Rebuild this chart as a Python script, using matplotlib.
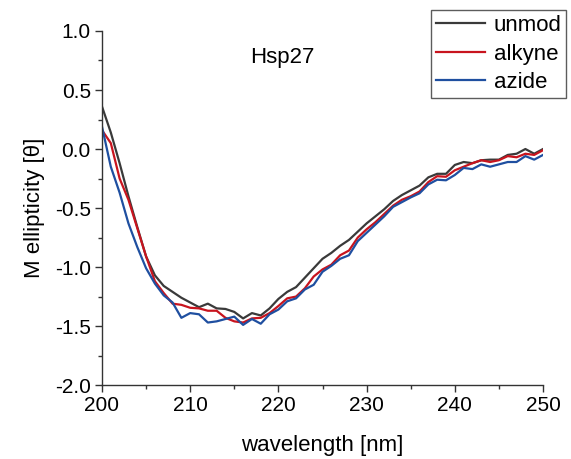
import numpy as np
import matplotlib
matplotlib.use("Agg")
import matplotlib.pyplot as plt
from matplotlib.ticker import MultipleLocator, FuncFormatter

plt.rcParams["font.family"] = ["Liberation Sans", "DejaVu Sans"]

# CD spectra of Hsp27, 200-250 nm in 1 nm steps
wavelength = list(range(200, 251))
unmod = [0.36, 0.14, -0.12, -0.40, -0.66, -0.91, -1.07, -1.16, -1.21, -1.26,
         -1.30, -1.34, -1.31, -1.35, -1.355, -1.38, -1.435, -1.39, -1.41, -1.35,
         -1.27, -1.21, -1.17, -1.09, -1.01, -0.93, -0.88, -0.82, -0.77, -0.70,
         -0.63, -0.57, -0.51, -0.44, -0.39, -0.35, -0.31, -0.24, -0.21, -0.21,
         -0.135, -0.11, -0.12, -0.095, -0.09, -0.09, -0.05, -0.04, 0.0, -0.04,
         0.0]
alkyne = [0.16, 0.05, -0.25, -0.43, -0.67, -0.91, -1.12, -1.22, -1.31, -1.32,
          -1.345, -1.35, -1.37, -1.37, -1.43, -1.46, -1.47, -1.435, -1.43, -1.39,
          -1.33, -1.265, -1.25, -1.18, -1.08, -1.02, -0.98, -0.90, -0.86, -0.75,
          -0.68, -0.62, -0.55, -0.48, -0.43, -0.40, -0.36, -0.28, -0.23, -0.235,
          -0.18, -0.15, -0.12, -0.095, -0.11, -0.095, -0.06, -0.07, -0.04, -0.05,
          -0.01]
azide = [0.19, -0.15, -0.37, -0.63, -0.83, -1.01, -1.14, -1.24, -1.30, -1.43,
         -1.39, -1.40, -1.47, -1.46, -1.44, -1.42, -1.49, -1.44, -1.48, -1.40,
         -1.36, -1.29, -1.265, -1.19, -1.15, -1.04, -0.99, -0.93, -0.90, -0.78,
         -0.71, -0.64, -0.57, -0.49, -0.45, -0.41, -0.375, -0.30, -0.26, -0.265,
         -0.22, -0.16, -0.17, -0.13, -0.15, -0.13, -0.11, -0.11, -0.06, -0.09,
         -0.05]

SERIES = [("unmod", unmod, "#3a3a3a"),
          ("alkyne", alkyne, "#c8141e"),
          ("azide", azide, "#1f4fa0")]

fig = plt.figure(figsize=(5.71, 4.59), dpi=100)
ax = fig.add_axes([0.1786, 0.161, 0.7724, 0.7715])

for label, values, color in SERIES:
    ax.plot(wavelength, values, color=color, lw=1.6, label=label)

ax.set_xlim(200, 250)
ax.set_ylim(-2.0, 1.0)
ax.xaxis.set_major_locator(MultipleLocator(10))
ax.xaxis.set_minor_locator(MultipleLocator(5))
ax.yaxis.set_major_locator(MultipleLocator(0.5))
ax.yaxis.set_minor_locator(MultipleLocator(0.25))
ax.yaxis.set_major_formatter(FuncFormatter(lambda v, _: f"{v:.1f}"))
ax.tick_params(which="major", direction="out", length=5, width=1, labelsize=15,
               color="#333333", pad=3)
ax.tick_params(which="minor", direction="out", length=3, width=1, color="#333333")
for side in ("top", "right"):
    ax.spines[side].set_visible(False)
for side in ("left", "bottom"):
    ax.spines[side].set_color("#333333")
    ax.spines[side].set_linewidth(1.0)

ax.set_xlabel("wavelength [nm]", fontsize=16, labelpad=14)
ax.set_ylabel("M ellipticity [θ]", fontsize=16, labelpad=7)
ax.text(220.4, 0.775, "Hsp27", fontsize=16, ha="center", va="center")

leg = fig.legend(loc="upper right", bbox_to_anchor=(0.992, 0.978), fontsize=16,
                 frameon=True, fancybox=False, handlelength=2.2, labelspacing=0.34,
                 borderpad=0.22, handletextpad=0.4, borderaxespad=0)
leg.get_frame().set_edgecolor("#333333")
leg.get_frame().set_linewidth(1.0)

fig.savefig("out.png", dpi=100)
